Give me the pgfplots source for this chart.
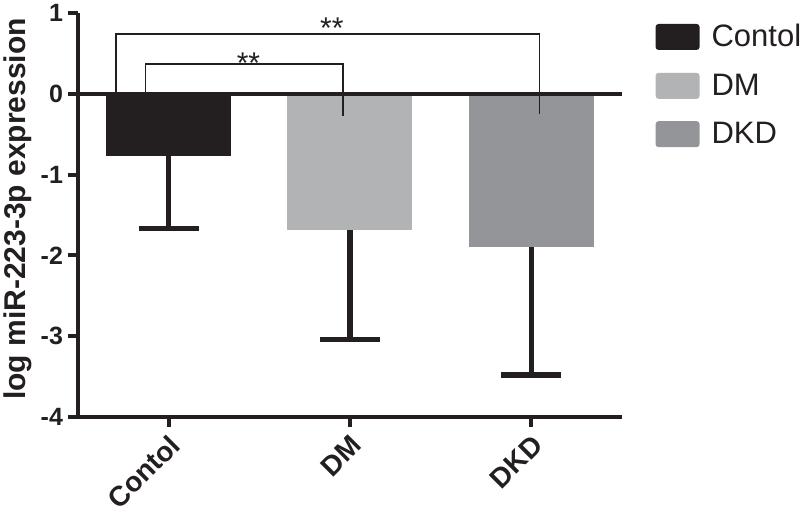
\documentclass[border=0pt]{standalone}
\usepackage{fontspec}
\setmainfont{Liberation Sans}
\usepackage{pgfplots}
\pgfplotsset{compat=1.18}
\definecolor{cblack}{HTML}{231F20}
\definecolor{cdm}{HTML}{B1B3B5}
\definecolor{cdkd}{HTML}{939598}
\begin{document}
\begin{tikzpicture}
\begin{axis}[
  at={(39pt,50pt)}, anchor=south west,
  scale only axis, width=272pt, height=202pt,
  xmin=-0.5, xmax=2.5, ymin=-4, ymax=1,
  axis x line=bottom, axis y line=left,
  axis line style={-, line width=2pt, cblack},
  every tick/.style={line width=2pt, cblack},
  tick align=outside, major tick length=5pt,
  xtick={0,1,2}, xticklabels={Contol,DM,DKD},
  ytick={-4,-3,-2,-1,0,1},
  /pgf/number format/assume math mode=true,
  ticklabel style={font=\bfseries\fontsize{12.5}{14}\selectfont, text=cblack},
  yticklabel style={xshift=1pt},
  xticklabel style={rotate=45, anchor=east, yshift=-7pt, xshift=1pt, font=\bfseries\fontsize{14}{16}\selectfont},
  ylabel={log miR-223-3p expression},
  ylabel style={at={(axis description cs:-0.11,0.515)}, anchor=center, font=\bfseries\fontsize{15}{17}\selectfont, text=cblack},
  ybar, bar width=62.5pt,
  legend style={draw=none, fill=none, at={(axis description cs:1.05,0.993)}, anchor=north west,
    font=\fontsize{15.5}{18}\selectfont, row sep=8pt, column sep=4pt, cells={anchor=west}, text=cblack},
  legend image code/.code={\fill[#1, rounded corners=1.5pt] (0pt,-6.5pt) rectangle (22pt,6.5pt);},
  clip=false,
]
\addplot[ybar, bar shift=0pt, fill=cblack, draw=none,
  error bars/.cd, y dir=minus, y explicit,
  error bar style={line width=2.6pt, cblack},
  error mark options={rotate=90, line width=2.6pt, mark size=15pt, cblack}]
  coordinates {(0,-0.775) -= (0,0.895)};
\addlegendentry{Contol}
\addplot[ybar, bar shift=0pt, fill=cdm, draw=none,
  error bars/.cd, y dir=minus, y explicit,
  error bar style={line width=2.6pt, cblack},
  error mark options={rotate=90, line width=2.6pt, mark size=15pt, cblack}]
  coordinates {(1,-1.68) -= (0,1.36)};
\addlegendentry{DM}
\addplot[ybar, bar shift=0pt, fill=cdkd, draw=none,
  error bars/.cd, y dir=minus, y explicit,
  error bar style={line width=2.6pt, cblack},
  error mark options={rotate=90, line width=2.6pt, mark size=15pt, cblack}]
  coordinates {(2,-1.90) -= (0,1.58)};
\addlegendentry{DKD}
\draw[line width=2pt, cblack] (axis cs:-0.5,0) -- (axis cs:2.5,0);
\draw[line width=0.8pt, cblack] (axis cs:-0.127,0) -- (axis cs:-0.127,0.37) -- (axis cs:0.96,0.37) -- (axis cs:0.96,-0.28);
\draw[line width=0.8pt, cblack] (axis cs:-0.29,0) -- (axis cs:-0.29,0.74) -- (axis cs:2.046,0.74) -- (axis cs:2.046,-0.25);
\node[font=\fontsize{15}{17}\selectfont, text=cblack] at (axis cs:0.44,0.38) {**};
\node[font=\fontsize{15}{17}\selectfont, text=cblack] at (axis cs:0.9,0.81) {**};
\end{axis}
\pgfresetboundingbox
\useasboundingbox (0,0) rectangle (400pt,258.5pt);
\end{tikzpicture}
\end{document}
